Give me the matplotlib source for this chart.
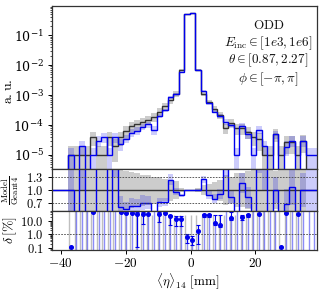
import numpy as np
import matplotlib
matplotlib.use('Agg')
import matplotlib.pyplot as plt
from matplotlib.ticker import FixedLocator, FuncFormatter, LogLocator, NullFormatter

plt.rcParams['mathtext.fontset'] = 'cm'
plt.rcParams['font.family'] = 'serif'
plt.rcParams['font.serif'] = ['DejaVu Serif']

# ---------------- data ----------------
bin_lo, bin_hi, n_bins = -42.8, 38.9, 48

g4 = [0, 0, 0,
      1.0e-5, 1.0e-5, 1.0e-5, 1.0e-5, 4.0e-5, 1.0e-5, 1.0e-5, 4.0e-5, 2.0e-5, 4.0e-5,
      6.3e-5, 9.0e-5, 1.05e-4, 1.25e-4, 1.5e-4, 1.9e-4, 2.8e-4, 4.3e-4, 6.8e-4, 1.1e-3,
      7.0e-3, 0.49, 0.53, 7.0e-3,
      1.1e-3, 6.0e-4, 3.5e-4, 2.2e-4, 8.0e-5, 1.2e-4, 8.0e-5, 8.0e-5, 6.0e-5, 4.0e-5,
      3.5e-5, 1.0e-5, 1.0e-5, 5.0e-5, 1.0e-5, 2.8e-5, 2.8e-5, 1.0e-5, 3.0e-5, 0, 0]

model = [0, 0, 0,
         1.0e-5, 0, 2.0e-5, 0, 1.0e-5, 3.0e-5, 4.0e-5, 1.0e-5, 4.0e-5, 2.4e-5,
         3.5e-5, 5.6e-5, 6.5e-5, 8.8e-5, 1.05e-4, 7.0e-5, 2.0e-4, 3.1e-4, 8.5e-4, 1.06e-3,
         6.1e-3, 0.49, 0.53, 7.0e-3,
         1.38e-3, 5.3e-4, 2.8e-4, 2.0e-4, 1.3e-4, 1.0e-4, 1.0e-5, 9.4e-5, 5.0e-5, 1.0e-5,
         7.0e-5, 2.0e-5, 0, 5.0e-5, 0, 1.9e-5, 3.0e-5, 0, 3.0e-5, 1.0e-5, 1.0e-5]

g4_relerr = [0, 0, 0,
             1.0, 1.0, 1.0, 1.0, 0.5, 1.0, 1.0, 0.5, 0.7, 0.5,
             0.45, 0.42, 0.4, 0.37, 0.35, 0.32, 0.3, 0.27, 0.25, 0.22,
             0.05, 0.005, 0.005, 0.05,
             0.12, 0.15, 0.2, 0.25, 0.35, 0.3, 0.4, 0.4, 0.45, 0.5,
             0.6, 1.0, 1.0, 0.45, 1.0, 0.6, 0.6, 1.0, 0.6, 0, 0]

model_relerr = [0, 0, 0,
                0.7, 0, 0.5, 0, 0.7, 0.4, 0.35, 0.7, 0.35, 0.45,
                0.3, 0.3, 0.28, 0.25, 0.22, 0.35, 0.15, 0.13, 0.1, 0.08,
                0.03, 0.003, 0.003, 0.03,
                0.07, 0.1, 0.12, 0.14, 0.2, 0.2, 0.7, 0.2, 0.3, 0.7,
                0.3, 0.5, 0, 0.3, 0, 0.5, 0.4, 0, 0.4, 0.7, 0.7]

nan = np.nan
delta = [nan, nan, nan,
         0.12, 100, 100, 100, 42, 100, 100, 100, 100, 40,
         36, 38, 33, 30, 32, 100, 30, 35, 21, 14,
         13, 0.64, 0.37, 1.75,
         27, 27, 7.2, 5.0, 100, 16.5, 100, 18, 26, 100,
         30, 100, 100, 100, 0.12, 35, 100, 32, 100, 100, 100]
delta_lo = [nan, nan, nan,
            0.12, 100, 100, 100, 42, 100, 100, 100, 100, 40,
            36, 38, 0.12, 6.0, 32, 100, 7.5, 35, 4.5, 4.0,
            4.0, 0.22, 0.16, 0.2,
            20, 20, 4.5, 3.5, 100, 10.5, 100, 12, 20, 100,
            30, 100, 100, 100, 0.12, 35, 100, 32, 100, 100, 100]
delta_hi = [nan, nan, nan,
            0.12, 100, 100, 100, 42, 100, 100, 100, 100, 40,
            36, 38, 45, 45, 32, 100, 45, 35, 28, 21,
            21, 1.1, 0.75, 5.0,
            33, 33, 24, 24, 100, 42, 100, 25, 32, 100,
            30, 100, 100, 100, 0.12, 35, 100, 32, 100, 100, 100]
gray_top = [nan, nan, nan,
            100, 100, 100, 100, 100, 100, 100, 100, 100, 100,
            28, 28, 28, 28, 28, 28, 28, 28, 28, 28,
            28, 28, 28, 28,
            28, 28, 28, 28, 28, 28, 28, 28, 28, 100,
            100, 100, 100, 100, 100, 100, 100, 100, 100, nan, nan]

x_ticks = [-40, -20, 0, 20]
ratio_ticks = [0.7, 1.0, 1.3]
delta_ticks = [0.1, 1.0, 10.0]
info_lines = [r'$\mathrm{ODD}$',
              r'$E_{\mathrm{inc}}\in[1e3,1e6]$',
              r'$\theta\in[0.87,2.27]$',
              r'$\phi\in[-\pi,\pi]$']

# ---------------- derived ----------------
edges = np.linspace(bin_lo, bin_hi, n_bins + 1)
centers = 0.5 * (edges[1:] + edges[:-1])
g4 = np.array(g4, float)
model = np.array(model, float)
g4e = np.array(g4_relerr, float)
me = np.array(model_relerr, float)
delta = np.array(delta, float)
delta_lo = np.array(delta_lo, float)
delta_hi = np.array(delta_hi, float)
gray_top = np.array(gray_top, float)
ratio = np.where(g4 > 0, model / np.where(g4 > 0, g4, 1.0), 1.0)

BLUE = '#0000ee'
DARK = '#333333'

fig = plt.figure(figsize=(3.24, 2.92), dpi=100)
L, W = 0.159, 0.819
ax1 = fig.add_axes([L, 0.421, W, 0.558])
ax2 = fig.add_axes([L, 0.277, W, 0.144], sharex=ax1)
ax3 = fig.add_axes([L, 0.144, W, 0.133], sharex=ax1)

# main panel
ax1.set_yscale('log')
ax1.stairs(g4 * (1 + g4e), edges, baseline=g4 * (1 - g4e), fill=True,
           color='gray', alpha=0.4, lw=0)
ax1.stairs(model * (1 + me), edges, baseline=model * (1 - me), fill=True,
           color=BLUE, alpha=0.2, lw=0)
ax1.stairs(g4, edges, baseline=None, color=DARK, lw=1.0)
ax1.stairs(model, edges, baseline=None, color=BLUE, lw=1.0)
ax1.set_ylim(3.4e-6, 0.93)
ax1.set_xlim(bin_lo, bin_hi)
ax1.yaxis.set_major_locator(LogLocator(base=10, numticks=10))
ax1.yaxis.set_minor_locator(LogLocator(base=10, subs=np.arange(2, 10), numticks=10))
ax1.yaxis.set_minor_formatter(NullFormatter())
ax1.tick_params(axis='x', labelbottom=False, length=0)
ax1.tick_params(axis='y', labelsize=9, length=3, width=0.7, pad=2.5)
ax1.tick_params(axis='y', which='minor', length=1.6, width=0.5)

ys = [0.883, 0.773, 0.669, 0.552]
for txt, yy in zip(info_lines, ys):
    ax1.text(0.818, yy, txt, transform=ax1.transAxes, ha='center', va='center',
             fontsize=9.5, color='#111111')

# ratio panel
ax2.stairs(1 + g4e, edges, baseline=1 - g4e, fill=True, color='gray', alpha=0.4, lw=0)
ax2.stairs(ratio * (1 + me), edges, baseline=ratio * (1 - me), fill=True,
           color=BLUE, alpha=0.2, lw=0)
ax2.stairs(np.ones(n_bins), edges, baseline=None, color=DARK, lw=1.0)
ax2.stairs(ratio, edges, baseline=None, color=BLUE, lw=1.0)
for v in (ratio_ticks[0], ratio_ticks[2]):
    ax2.axhline(v, ls=(0, (2, 1.5)), color='#444444', lw=0.6)
ax2.set_ylim(0.5, 1.5)
ax2.yaxis.set_major_locator(FixedLocator(ratio_ticks))
ax2.yaxis.set_major_formatter(FuncFormatter(lambda v, p: r'$%.1f$' % v))
ax2.tick_params(axis='x', labelbottom=False, length=0)
ax2.tick_params(axis='y', labelsize=9, length=3, width=0.7, pad=2.5)

# delta panel
ax3.set_yscale('log')
ybot = 0.07
m = ~np.isnan(gray_top)
ax3.vlines(centers[m] - 0.5, 1e-3, gray_top[m], color='#b0b0b0', lw=1.0, alpha=0.8)
m2 = ~np.isnan(delta)
ax3.vlines(centers[m2], 1e-3, delta[m2], color=BLUE, alpha=0.45, lw=1.0)
ax3.errorbar(centers[m2], delta[m2],
             yerr=[delta[m2] - delta_lo[m2], delta_hi[m2] - delta[m2]],
             fmt='o', ms=2.6, color=BLUE, ecolor=BLUE, elinewidth=0.8,
             capsize=1.6, capthick=0.8)
ax3.axhline(1.0, ls=(0, (2, 1.5)), color='#444444', lw=0.6)
ax3.set_ylim(ybot, 50)
ax3.yaxis.set_major_locator(FixedLocator(delta_ticks))
ax3.yaxis.set_major_formatter(FuncFormatter(lambda v, p: r'$%.1f$' % v))
ax3.yaxis.set_minor_locator(LogLocator(base=10, subs=np.arange(2, 10), numticks=10))
ax3.yaxis.set_minor_formatter(NullFormatter())
ax3.xaxis.set_major_locator(FixedLocator(x_ticks))
ax3.xaxis.set_major_formatter(FuncFormatter(lambda v, p: r'$%g$' % v))
ax3.tick_params(axis='y', labelsize=9, length=3, width=0.7, pad=2.5)
ax3.tick_params(axis='y', which='minor', length=1.6, width=0.5)
ax3.tick_params(axis='x', labelsize=9.5, length=3, width=0.7, pad=2)
ax3.set_xlim(bin_lo, bin_hi)

for ax in (ax1, ax2, ax3):
    for s in ax.spines.values():
        s.set_color(DARK)
        s.set_linewidth(0.9)

fig.text(8 / 324, 1 - 91 / 292, r'$\mathrm{a.u.}$', rotation=90,
         ha='center', va='center', fontsize=10)
fig.text(10 / 324, 1 - 190 / 292, r'$\frac{\mathrm{Model}}{\mathrm{Geant4}}$',
         rotation=90, ha='center', va='center', fontsize=9)
fig.text(10 / 324, 1 - 230 / 292, r'$\delta\,[\%]$', rotation=90,
         ha='center', va='center', fontsize=10)
fig.text(188 / 324, 1 - 282 / 292, r'$\langle\eta\rangle_{14}\ [\mathrm{mm}]$',
         ha='center', va='center', fontsize=9.5)

fig.savefig('out.png', dpi=100)
